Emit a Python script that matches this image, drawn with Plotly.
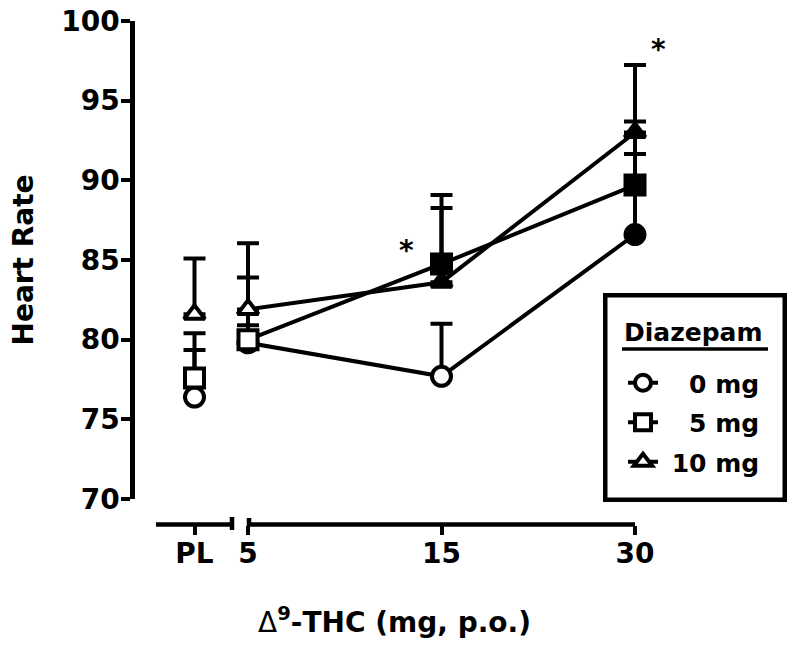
import plotly.graph_objects as go

# ---- data ----
dose_labels = ["5", "15", "30"]          # delta9-THC doses (mg, p.o.)
pl_label = ["PL"]

series_names = ["\u00a0\u20070 mg", "\u00a0\u20075 mg", "\u00a010 mg"]   # diazepam groups
legend_title = "Diazepam"

hr_0mg = [79.8, 77.7, 86.6]
hr_5mg = [80.0, 84.75, 89.7]
hr_10mg = [81.9, 83.6, 93.0]

se_0mg = [4.1, 3.3, 7.1]
se_5mg = [0.9, 4.33, 1.95]
se_10mg = [4.15, 4.66, 4.24]

pl_hr = [76.4, 77.6, 81.6]      # placebo value for 0, 5, 10 mg diazepam
pl_se = [4.0, 1.75, 3.5]

# significant vs placebo -> filled marker
filled_0mg = [False, False, True]
filled_5mg = [False, True, True]
filled_10mg = [False, True, True]

symbols = ["circle", "square", "triangle-up"]
sizes = [19, 19, 18]

FONT = "DejaVu Sans, Liberation Sans, Arial, sans-serif"
W, H = 800, 648
L, R, T, B = 132, 20, 21, 123
PW, PH = W - L - R, H - T - B
LW = 4


def px_x(p):
    return (p - L) / PW


def px_y(p):
    return (H - B - p) / PH


fig = go.Figure()

groups = [
    (hr_0mg, se_0mg, filled_0mg),
    (hr_5mg, se_5mg, filled_5mg),
    (hr_10mg, se_10mg, filled_10mg),
]
order = [0, 2, 1]  # drawing order: circles, triangles, squares on top
for i in order:
    vals, errs, filled = groups[i]
    # placebo point (separate axis segment)
    fig.add_trace(go.Scatter(
        x=pl_label, y=[pl_hr[i]], xaxis="x", yaxis="y", mode="markers",
        marker=dict(symbol=symbols[i], size=sizes[i], color="white",
                    line=dict(color="black", width=LW)),
        error_y=dict(type="data", symmetric=False, array=[pl_se[i]], arrayminus=[0],
                     color="black", thickness=LW, width=11),
        showlegend=False, cliponaxis=False, hoverinfo="y",
    ))
    fig.add_trace(go.Scatter(
        x=dose_labels, y=vals, xaxis="x2", yaxis="y", mode="lines+markers",
        name=series_names[i], legendgroup=f"g{i}", legendrank=i,
        line=dict(color="black", width=LW),
        marker=dict(symbol=symbols[i], size=sizes[i],
                    color=["black" if f else "white" for f in filled],
                    line=dict(color="black", width=LW)),
        error_y=dict(type="data", symmetric=False, array=errs, arrayminus=[0] * len(errs),
                     color="black", thickness=LW, width=11),
        cliponaxis=False,
    ))

tickfont = dict(family=FONT, size=28, color="black", weight="bold")
axis_common = dict(ticks="outside", ticklen=9, tickwidth=LW, tickcolor="black",
                   showgrid=False, zeroline=False, tickfont=tickfont,
                   anchor="free", position=0, automargin=False)

# x2: doses; domain widened a bit so error-bar caps at the ends are not clipped,
# range chosen so that "5" sits at px 248 and "30" at px 635
x2_px0, x2_px1 = 236, 650
x2_first, x2_last = 248, 635
unit = (x2_last - x2_first) / 2
x2_range = [-(x2_first - x2_px0) / unit, 2 + (x2_px1 - x2_last) / unit]

axis_y_px = 524.5
line_style = dict(color="black", width=4.5)

fig.update_layout(
    width=W, height=H,
    margin=dict(l=L, r=R, t=T, b=B),
    paper_bgcolor="white", plot_bgcolor="white",
    xaxis=dict(domain=[px_x(156), px_x(233)], type="category", range=[-1, 1],
               showline=False, ticklabelstandoff=-6, **axis_common),
    xaxis2=dict(domain=[px_x(x2_px0), px_x(x2_px1)], type="category",
                categoryorder="array", categoryarray=dose_labels, range=x2_range,
                showline=False, ticklabelstandoff=-6, **axis_common),
    yaxis=dict(domain=[px_y(499), 1.0], range=[70, 100], tickvals=[70, 75, 80, 85, 90, 95, 100],
               showline=True, linewidth=4.5, linecolor="black", ticklabelstandoff=-4,
               title=dict(text="Heart Rate", standoff=18,
                          font=dict(family=FONT, size=28, color="black", weight="bold")),
               **axis_common),
    legend=dict(
        x=px_x(623), y=px_y(360), xanchor="left", yanchor="top",
        borderwidth=0, bgcolor="rgba(0,0,0,0)",
        font=dict(family=FONT, size=25, color="black", weight="bold"),
        traceorder="grouped", tracegroupgap=4,
    ),
    annotations=[
        dict(text="<span style='font-weight:normal'>\u0394</span><sup>9</sup>-THC (mg, p.o.)",
             xref="paper", yref="paper", x=px_x(394), y=px_y(620),
             xanchor="center", yanchor="middle", showarrow=False,
             font=dict(family=FONT, size=28, color="black", weight="bold")),
        dict(text="*", xref="x2", yref="y", x=1, y=85.6, xshift=-35, showarrow=False,
             font=dict(family=FONT, size=28, color="black", weight="bold")),
        dict(text="*", xref="x2", yref="y", x=2, y=98.2, xshift=23, showarrow=False,
             font=dict(family=FONT, size=28, color="black", weight="bold")),
        dict(text=legend_title, xref="paper", yref="paper", x=px_x(693), y=px_y(332),
             xanchor="center", yanchor="middle", showarrow=False,
             font=dict(family=FONT, size=25, color="black", weight="bold")),
    ],
    shapes=[
        # broken x axis: placebo segment and dose segment, with end caps
        dict(type="line", xref="paper", yref="paper", x0=px_x(156), x1=px_x(233),
             y0=px_y(axis_y_px), y1=px_y(axis_y_px), line=line_style),
        dict(type="line", xref="paper", yref="paper", x0=px_x(248), x1=px_x(635),
             y0=px_y(axis_y_px), y1=px_y(axis_y_px), line=line_style),
        dict(type="line", xref="paper", yref="paper", x0=px_x(232), x1=px_x(232),
             y0=px_y(517), y1=px_y(530), line=line_style),
        dict(type="line", xref="paper", yref="paper", x0=px_x(249), x1=px_x(249),
             y0=px_y(518), y1=px_y(526), line=line_style),
        # legend frame and title underline
        dict(type="rect", xref="paper", yref="paper", layer="below",
             x0=px_x(605.25), x1=px_x(784.75), y0=px_y(499.75), y1=px_y(295.25),
             line=line_style, fillcolor="white"),
        dict(type="line", xref="paper", yref="paper", x0=px_x(622), x1=px_x(768),
             y0=px_y(349), y1=px_y(349), line=dict(color="black", width=3.5)),
    ],
)

fig.write_html("out.html", config={"displayModeBar": False},
               post_script="document.body.style.margin='0';document.body.style.padding='0';")
